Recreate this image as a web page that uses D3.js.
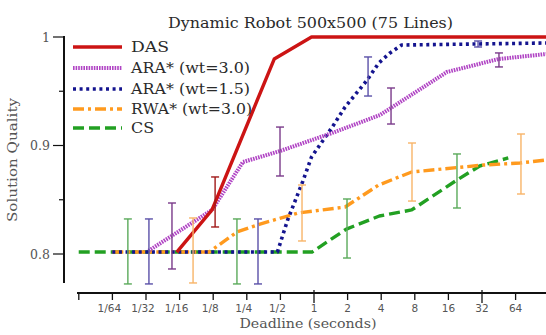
<!DOCTYPE html>
<html><head><meta charset="utf-8">
<script src="https://cdn.jsdelivr.net/npm/d3@7/dist/d3.min.js"></script>
<style>body{margin:0;background:#fff}svg{display:block}</style>
</head><body>
<svg id="c" width="546" height="335"></svg>
<script>
// ---- data ----
const title = "Dynamic Robot 500x500 (75 Lines)";
const xTicks = [1/128, 1/64, 1/32, 1/16, 1/8, 1/4, 1/2, 1, 2, 4, 8, 16, 32, 64];
const xTickLabels = ["", "1/64", "1/32", "1/16", "1/8", "1/4", "1/2", "1", "2", "4", "8", "16", "32", "64"];
const yTicks = [0.8, 0.9, 1];
const yTickLabels = ["0.8", "0.9", "1"];
const yMinor = [0.85, 0.95];
const seriesNames = ["DAS", "ARA* (wt=3.0)", "ARA* (wt=1.5)", "RWA* (wt=3.0)", "CS"];

const dasT = [0.059, 0.122, 0.44, 0.95, 128];
const dasQ = [0.8018, 0.8406, 0.9797, 1.0, 1.0];

const ara3T = [0.033, 0.122, 0.231, 0.496, 1.45, 3.9, 15.5, 45, 120];
const ara3Q = [0.8030, 0.8406, 0.8848, 0.8949, 0.9115, 0.9281, 0.9677, 0.9797, 0.9843];

const ara15T = [0.0156, 0.47, 0.58, 0.79, 0.95, 1.46, 1.9, 3.0, 3.8, 4.8, 6.1, 128];
const ara15Q = [0.8018, 0.8018, 0.8313, 0.8664, 0.8894, 0.9171, 0.9355, 0.9604, 0.976, 0.9853, 0.9926, 0.9945];

const rwaT = [0.0156, 0.115, 0.204, 0.328, 0.72, 1.9, 3.8, 7.5, 33, 70, 120];
const rwaQ = [0.8018, 0.8018, 0.8203, 0.8276, 0.8378, 0.8433, 0.8636, 0.8756, 0.882, 0.8839, 0.8866];

const csT = [0.0078, 0.96, 1.95, 3.85, 7.5, 19.1, 30.5, 55];
const csQ = [0.8018, 0.8018, 0.823, 0.835, 0.8406, 0.8682, 0.8811, 0.8885];

// error bars: series index, t, low, high
const errSeries = [4, 2, 1, 3, 0, 4, 2, 1, 3, 4, 2, 1, 3, 4, 2, 1, 3];
const errT =      [0.0215, 0.0332, 0.0534, 0.0825, 0.13, 0.204, 0.315, 0.496, 0.781, 1.976, 3.05, 4.9, 7.55, 19.1, 29.5, 45.4, 71.5];
const errLo =     [0.7724, 0.7724, 0.7862, 0.7733, 0.8249, 0.7724, 0.7724, 0.8719, 0.812, 0.7963, 0.9456, 0.9198, 0.8488, 0.8424, 0.9908, 0.9724, 0.8553];
const errHi =     [0.8323, 0.8323, 0.847, 0.8332, 0.871, 0.8323, 0.8323, 0.917, 0.8636, 0.8507, 0.9816, 0.953, 0.9023, 0.8922, 0.9963, 0.9853, 0.9106];

// ---- styles ----
const lineColors = ["#cc1414", "#b044c4", "#14148f", "#ff9a1e", "#22a022"];
const errColors  = ["#a01818", "#7a3a8a", "#5a50a8", "#f8b468", "#5aaa5a"];
const dashes = [null, "1.6,1", "3,3.6", "11,4,3,4", "11,5"];
const widths = [3.4, 4, 3.6, 3.4, 3.4];
const legendWidths = [38, 119, 119, 121, 23];

const svg = d3.select("#c");
const x = d3.scaleLog().base(2).domain([1/128, 128]).range([78.8, 549.2]);
const y = d3.scaleLinear().domain([0.8, 1]).range([254, 37]);
const serif = "'DejaVu Serif', 'Liberation Serif', serif";

// title
svg.append("text").attr("x", 168).attr("y", 28)
  .attr("font-family", serif).attr("font-size", 14).attr("fill", "#2a2a2a")
  .attr("textLength", 285).attr("lengthAdjust", "spacingAndGlyphs")
  .text(title);

// axes lines
svg.append("line").attr("x1", 64).attr("x2", 64).attr("y1", y(1) - 1).attr("y2", 283)
  .attr("stroke", "#111").attr("stroke-width", 2);
svg.append("line").attr("x1", 77).attr("x2", 546).attr("y1", 293).attr("y2", 293)
  .attr("stroke", "#111").attr("stroke-width", 2);

// y ticks
yTicks.forEach((v, i) => {
  svg.append("line").attr("x1", 53).attr("x2", 64).attr("y1", y(v)).attr("y2", y(v))
    .attr("stroke", "#111").attr("stroke-width", 1.2);
  svg.append("text").attr("x", 50).attr("y", y(v) + 4.5).attr("text-anchor", "end")
    .attr("font-family", serif).attr("font-size", 12.5).attr("fill", "#555").text(yTickLabels[i]);
});
yMinor.forEach(v => {
  svg.append("line").attr("x1", 59).attr("x2", 64).attr("y1", y(v)).attr("y2", y(v))
    .attr("stroke", "#111").attr("stroke-width", 1.2);
});
// x ticks
xTicks.forEach((v, i) => {
  const big = (v === 1 || v === 32);
  svg.append("line").attr("x1", x(v)).attr("x2", x(v)).attr("y1", big ? 290 : 293).attr("y2", big ? 303 : 300)
    .attr("stroke", "#111").attr("stroke-width", 1.3);
  const frac = xTickLabels[i].indexOf("/") >= 0;
  svg.append("text").attr("x", x(v) - (frac ? 3 : 0)).attr("y", 311.5).attr("text-anchor", "middle")
    .attr("font-family", "'DejaVu Sans', sans-serif").attr("font-size", 10.5).attr("fill", "#555")
    .text(xTickLabels[i]);
});

// axis titles
svg.append("text").attr("x", 308).attr("y", 328).attr("text-anchor", "middle")
  .attr("font-family", serif).attr("font-size", 12.5).attr("fill", "#555")
  .attr("textLength", 137).attr("lengthAdjust", "spacingAndGlyphs").text("Deadline (seconds)");
svg.append("text").attr("transform", "translate(17,160) rotate(-90)").attr("text-anchor", "middle")
  .attr("font-family", serif).attr("font-size", 13).attr("fill", "#555")
  .attr("textLength", 124).attr("lengthAdjust", "spacingAndGlyphs").text("Solution Quality");

// lines
const data = [[dasT, dasQ], [ara3T, ara3Q], [ara15T, ara15Q], [rwaT, rwaQ], [csT, csQ]];
const line = d3.line().x(d => x(d[0])).y(d => y(d[1]));
const order = [4, 3, 2, 1, 0];
order.forEach(k => {
  const pts = data[k][0].map((t, i) => [t, data[k][1][i]]);
  svg.append("path").attr("d", line(pts)).attr("fill", "none")
    .attr("stroke", lineColors[k]).attr("stroke-width", widths[k])
    .attr("stroke-dasharray", dashes[k]).attr("stroke-linejoin", "round");
});

// error bars
errT.forEach((t, i) => {
  const k = errSeries[i];
  const g = svg.append("g").attr("stroke", errColors[k]).attr("stroke-width", 1.4);
  const cx = x(t);
  g.append("line").attr("x1", cx).attr("x2", cx).attr("y1", y(errLo[i])).attr("y2", y(errHi[i]));
  g.append("line").attr("x1", cx - 4).attr("x2", cx + 4).attr("y1", y(errLo[i])).attr("y2", y(errLo[i]));
  g.append("line").attr("x1", cx - 4).attr("x2", cx + 4).attr("y1", y(errHi[i])).attr("y2", y(errHi[i]));
});

// legend
const legLineY = [47, 68, 89, 109, 128];
seriesNames.forEach((n, k) => {
  svg.append("line").attr("x1", 73).attr("x2", 122).attr("y1", legLineY[k]).attr("y2", legLineY[k])
    .attr("stroke", lineColors[k]).attr("stroke-width", widths[k]).attr("stroke-dasharray", dashes[k]);
  svg.append("text").attr("x", 131).attr("y", legLineY[k] + 5).attr("font-family", serif)
    .attr("font-size", 14).attr("fill", "#2a2a2a")
    .attr("textLength", legendWidths[k]).attr("lengthAdjust", "spacingAndGlyphs").text(n);
});
</script>
</body></html>
